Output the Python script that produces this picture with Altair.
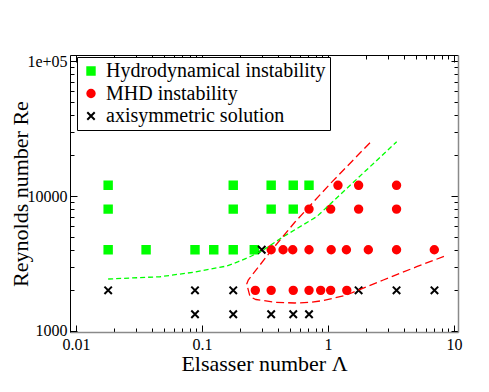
import altair as alt
import pandas as pd

FONT = "Liberation Serif"

# ---- data ----
kinds = ["Hydrodynamical instability", "MHD instability", "axisymmetric solution"]

green_lam = [0.018, 0.177, 0.354, 0.53, 0.707,
             0.018, 0.177, 0.354, 0.53,
             0.018, 0.036, 0.088, 0.124, 0.177, 0.26]
green_re = [12000, 12000, 12000, 12000, 12000,
            8000, 8000, 8000, 8000,
            4000, 4000, 4000, 4000, 4000, 4000]

red_lam = [1.2, 1.75, 3.5,
           0.707, 1.05, 1.75, 3.5,
           0.354, 0.44, 0.525, 0.707, 1.06, 1.40, 2.09, 3.5, 6.98,
           0.265, 0.354, 0.53, 0.707, 0.875, 1.05, 1.41]
red_re = [12000, 12000, 12000,
          8000, 8000, 8000, 8000,
          4000, 4000, 4000, 4000, 4000, 4000, 4000, 4000, 4000,
          2000, 2000, 2000, 2000, 2000, 2000, 2000]

black_lam = [0.298,
             0.018, 0.088, 0.177, 1.75, 3.5, 7.0,
             0.088, 0.177, 0.354, 0.53, 0.707]
black_re = [4000,
            2000, 2000, 2000, 2000, 2000, 2000,
            1330, 1330, 1330, 1330, 1330]

green_curve_lam = [0.018, 0.0464, 0.0853, 0.157, 0.194, 0.2405, 0.3066, 0.4416, 0.813, 3.51]
green_curve_re = [2427, 2523, 2722, 3027, 3262, 3550, 3981, 4994, 7025, 25240]

red_curve_lam = [2.154, 1.037, 0.547, 0.347, 0.233, 0.2265, 0.2405, 0.268, 0.379,
                 0.547, 0.743, 0.918, 1.407, 2.748, 5.06, 8.49]
red_curve_re = [24830, 12270, 6415, 3848, 2387, 2229, 1795, 1711, 1632,
                1612, 1632, 1682, 1848, 2387, 2994, 3594]

x_major = [0.01, 0.1, 1, 10]
x_tick_labels = ["0.01", "0.1", "1", "10"]
x_minor = [0.02, 0.03, 0.04, 0.05, 0.06, 0.07, 0.08, 0.09,
           0.2, 0.3, 0.4, 0.5, 0.6, 0.7, 0.8, 0.9,
           2, 3, 4, 5, 6, 7, 8, 9]
y_major = [1000, 10000, 100000]
y_tick_labels = ["1000", "10000", "1e+05"]
y_minor = [2000, 3000, 4000, 5000, 6000, 7000, 8000, 9000,
           20000, 30000, 40000, 50000, 60000, 70000, 80000, 90000]

# ---- tables ----
pts = pd.DataFrame({
    "lam": green_lam + red_lam + black_lam,
    "Re": green_re + red_re + black_re,
    "kind": [kinds[0]] * len(green_lam) + [kinds[1]] * len(red_lam) + [kinds[2]] * len(black_lam),
})
gcurve = pd.DataFrame({"lam": green_curve_lam, "Re": green_curve_re, "o": list(range(len(green_curve_lam)))})
rcurve = pd.DataFrame({"lam": red_curve_lam, "Re": red_curve_re, "o": list(range(len(red_curve_lam)))})

X_PATH = "M-1,-1L1,1M1,-1L-1,1"

xscale = alt.Scale(type="log", domain=[0.008963, 10.76], nice=False)
yscale = alt.Scale(type="log", domain=[983, 110800], nice=False)


def label_expr(vals, labels):
    e = "''"
    for v, l in reversed(list(zip(vals, labels))):
        e = f"datum.value == {v} ? '{l}' : ({e})"
    return e


def tick_expr(vals, big, small):
    arr = ",".join(str(v) for v in vals)
    return {"expr": f"indexof([{arr}], datum.value) >= 0 ? {big} : {small}"}


common = dict(grid=False, tickColor="black", tickWidth=1, labelFont=FONT, labelFontSize=16,
              labelColor="black", titleFont=FONT, titleFontSize=22, titleFontWeight="normal",
              titleColor="black", labelFlush=False, labelOverlap=False)

ax_bottom = alt.Axis(orient="bottom", values=x_major + x_minor, labelExpr=label_expr(x_major, x_tick_labels),
                     tickSize=tick_expr(x_major, -7, -4), labelPadding=11,
                     domainColor="#8a8a8a", domainWidth=1.5, title="Elsasser number Λ",
                     titleBaseline="alphabetic", titleY=38, **common)
ax_left = alt.Axis(orient="left", values=y_major + y_minor, labelExpr=label_expr(y_major, y_tick_labels),
                   tickSize=tick_expr(y_major, -7, -4), labelPadding=10,
                   domainColor="black", domainWidth=1, title="Reynolds number Re",
                   titleBaseline="alphabetic", titleX=-43, **common)
ax_top = alt.Axis(orient="top", values=x_major + x_minor, labels=False, tickSize=tick_expr(x_major, -7, -4),
                  domainColor="black", domainWidth=1, title=None, grid=False, tickColor="black")
ax_right = alt.Axis(orient="right", values=y_major + y_minor, labels=False, tickSize=tick_expr(y_major, -7, -4),
                    domainColor="#8a8a8a", domainWidth=1.5, title=None, grid=False, tickColor="black")

legend = alt.Legend(orient="none", legendX=7, legendY=2, title=None, strokeColor="black", fillColor="white",
                    padding=4, symbolOffset=0, labelOffset=5, labelFont=FONT, labelFontSize=20,
                    labelColor="black", rowPadding=2.5, symbolSize=55, symbolStrokeWidth=2, labelLimit=400)

frame = alt.Chart(pts).mark_point(opacity=0).encode(
    x=alt.X("lam:Q", scale=xscale, axis=ax_top),
    y=alt.Y("Re:Q", scale=yscale, axis=ax_right),
)

points = alt.Chart(pts).mark_point(filled=False, opacity=1, size=55, strokeWidth=2).encode(
    x=alt.X("lam:Q", scale=xscale, axis=ax_bottom),
    y=alt.Y("Re:Q", scale=yscale, axis=ax_left),
    fill=alt.Fill("kind:N", scale=alt.Scale(domain=kinds, range=["#00ff00", "#ff0000", "transparent"]), legend=legend),
    stroke=alt.Stroke("kind:N", scale=alt.Scale(domain=kinds, range=["#00ff00", "#ff0000", "#000000"]), legend=legend),
    shape=alt.Shape("kind:N", scale=alt.Scale(domain=kinds, range=["square", "circle", X_PATH]), legend=legend),
)

green = alt.Chart(gcurve).mark_line(color="#00ff00", strokeWidth=1.3, strokeDash=[5, 3]).encode(
    x=alt.X("lam:Q", scale=xscale, axis=None),
    y=alt.Y("Re:Q", scale=yscale, axis=None),
    order="o:Q",
)
red = alt.Chart(rcurve).mark_line(color="#ff0000", strokeWidth=1.3, strokeDash=[8, 4]).encode(
    x=alt.X("lam:Q", scale=xscale, axis=None),
    y=alt.Y("Re:Q", scale=yscale, axis=None),
    order="o:Q",
)

chart = alt.layer(frame, points, green, red).resolve_axis(
    x="independent", y="independent"
).properties(
    width=388, height=277,
    autosize=alt.AutoSizeParams(type="none"),
    padding={"left": 62, "top": 47, "right": 20, "bottom": 50},
).configure_view(
    stroke="transparent"
).configure_axis(
    labelFont=FONT, labelFontSize=16, labelColor="black", titleFont=FONT
).configure(
    style={"guide-label": {"font": FONT, "fontSize": 16, "fill": "black"}}
)

chart.save("out.html", embed_options={"renderer": "svg", "actions": False})
